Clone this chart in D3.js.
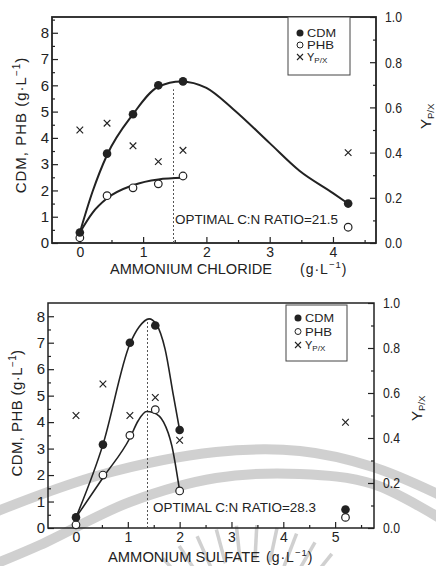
<!DOCTYPE html>
<html>
<head>
<meta charset="utf-8">
<script src="https://cdn.jsdelivr.net/npm/d3@7"></script>
<style>
  body { margin: 0; background: #fff; }
  svg { display: block; font-family: "Liberation Sans", Arial, sans-serif; }
  .axis path.domain { display: none; }
  .axis line { stroke: #222; stroke-width: 1.2; }
  .axis text { fill: #222; font-size: 14px; font-family: "Liberation Sans", Arial, sans-serif; }
</style>
</head>
<body>
<svg id="chart" width="436" height="566"></svg>
<script>
// --- ammonium chloride (upper panel) ---
const chlorideX   = [0, 0.43, 0.84, 1.24, 1.63, 4.24];
const chlorideCDM = [0.4, 3.4, 4.9, 6.0, 6.15, 1.5];
const chloridePHB = [0.2, 1.8, 2.1, 2.25, 2.55, 0.6];
const chlorideYpx = [0.50, 0.53, 0.43, 0.36, 0.41, 0.40];
// fitted lines
const chlorideCdmFitX = [0, 0.2, 0.43, 0.84, 1.24, 1.6, 2.0, 2.42, 3.0, 3.47, 4.0, 4.24];
const chlorideCdmFitY = [0.4, 1.95, 3.35, 4.9, 5.95, 6.15, 5.9, 5.1, 3.8, 2.75, 1.9, 1.5];
const chloridePhbFitX = [0, 0.2, 0.43, 0.84, 1.24, 1.63];
const chloridePhbFitY = [0.4, 1.15, 1.7, 2.2, 2.42, 2.48];
const chlorideOptimal = [1.48, 5.85];   // x, top of dotted line
const chlorideNote = "OPTIMAL C:N RATIO=21.5";

// --- ammonium sulfate (lower panel) ---
const sulfateX   = [0, 0.52, 1.04, 1.53, 2.0, 5.2];
const sulfateCDM = [0.4, 3.15, 7.0, 7.65, 3.7, 0.7];
const sulfatePHB = [0.12, 2.0, 3.5, 4.47, 1.4, 0.4];
const sulfateYpx = [0.50, 0.64, 0.50, 0.58, 0.39, 0.47];
const sulfateCdmFitX = [0, 0.52, 1.04, 1.22, 1.41, 1.55, 1.72, 1.88, 2.0];
const sulfateCdmFitY = [0.4, 3.15, 6.95, 7.6, 7.9, 7.7, 6.75, 5.0, 3.7];
const sulfatePhbFitX = [0, 0.52, 1.04, 1.2, 1.36, 1.5, 1.69, 1.85, 2.0];
const sulfatePhbFitY = [0.4, 1.9, 3.4, 4.05, 4.4, 4.35, 4.0, 3.1, 1.4];
const sulfateOptimal = [1.38, 7.88];
const sulfateNote = "OPTIMAL C:N RATIO=28.3";

// ticks
const leftTicks = [0, 1, 2, 3, 4, 5, 6, 7, 8];
const rightTicks = [0, 0.2, 0.4, 0.6, 0.8, 1.0];
const chlorideTicks = [0, 1, 2, 3, 4];
const sulfateTicks = [0, 1, 2, 3, 4, 5];

const ink = "#222";
const svg = d3.select("#chart");

drawWatermark();

drawPanel({
    left: 52, right: 376, top: 17, bottom: 243,
    xDomain: [-0.44, 4.68], yMax: 8.6,
    xTicks: chlorideTicks, xPad: 4,
    x: chlorideX, cdm: chlorideCDM, phb: chloridePHB, ypx: chlorideYpx,
    cdmFit: d3.zip(chlorideCdmFitX, chlorideCdmFitY),
    phbFit: d3.zip(chloridePhbFitX, chloridePhbFitY),
    optimal: chlorideOptimal, note: chlorideNote, noteX: 175, noteY: 224,
    legend: {x: 288, y: 17, w: 62, h: 58, rows: [33, 45, 57]},
    yTitle: {x: 26, y: 125, spacing: 1},
    rTitle: {x: 431, y: 129},
    xTitle: {x: 110, y: 274, words: "AMMONIUM CHLORIDE", w: 162, unitX: 300},
    lineWidth: 2, frameWidth: 1.8
});

drawPanel({
    left: 48, right: 374, top: 303, bottom: 528,
    xDomain: [-0.54, 5.75], yMax: 8.5,
    xTicks: sulfateTicks, xPad: 4,
    x: sulfateX, cdm: sulfateCDM, phb: sulfatePHB, ypx: sulfateYpx,
    cdmFit: d3.zip(sulfateCdmFitX, sulfateCdmFitY),
    phbFit: d3.zip(sulfatePhbFitX, sulfatePhbFitY),
    optimal: sulfateOptimal, note: sulfateNote, noteX: 153, noteY: 512,
    legend: {x: 286, y: 305, w: 61, h: 56, rows: [318, 331.5, 345]},
    yTitle: {x: 22, y: 413, spacing: 0.4},
    rTitle: {x: 422, y: 421},
    xTitle: {x: 108, y: 562, words: "AMMONIUM SULFATE", w: 152, unitX: 266},
    lineWidth: 1.6, frameWidth: 1.5
});

function drawPanel(p) {
    var g = svg.append("g");

    var x = d3.scaleLinear().domain(p.xDomain).range([p.left, p.right]);
    var y = d3.scaleLinear().domain([0, p.yMax]).range([p.bottom, p.top]);
    var yr = d3.scaleLinear().domain([0, 1]).range([p.bottom, p.top]);

    // left axis
    var la = g.append("g").attr("class", "axis")
        .attr("transform", "translate(" + p.left + ",0)")
        .call(d3.axisLeft(y).tickValues(leftTicks).tickSize(-6).tickPadding(3).tickFormat(d3.format("d")));
    la.selectAll("text").style("font-size", "15px");
    la.selectAll("text").filter(d => d === 0).attr("fill", "#aaa");
    g.append("g").attr("class", "axis")
        .attr("transform", "translate(" + p.left + ",0)")
        .call(d3.axisLeft(y).tickValues(d3.range(0.5, p.yMax, 1)).tickSize(-3).tickFormat(""));

    // right axis
    g.append("g").attr("class", "axis")
        .attr("transform", "translate(" + p.right + ",0)")
        .call(d3.axisRight(yr).tickValues(rightTicks).tickSize(-6).tickPadding(9).tickFormat(d3.format(".1f")))
        .selectAll("text")
        .style("font-size", "15px")
        .attr("textLength", 17).attr("lengthAdjust", "spacingAndGlyphs");
    g.append("g").attr("class", "axis")
        .attr("transform", "translate(" + p.right + ",0)")
        .call(d3.axisRight(yr).tickValues([0.1, 0.3, 0.5, 0.7, 0.9]).tickSize(-3).tickFormat(""));

    // bottom axis
    g.append("g").attr("class", "axis")
        .attr("transform", "translate(0," + p.bottom + ")")
        .call(d3.axisBottom(x).tickValues(p.xTicks).tickSize(-6).tickPadding(p.xPad).tickFormat(d3.format("d")));
    g.append("g").attr("class", "axis")
        .attr("transform", "translate(0," + p.bottom + ")")
        .call(d3.axisBottom(x).tickValues(p.xTicks.map(t => t + 0.5)).tickSize(-3).tickFormat(""));

    // frame
    g.append("rect")
        .attr("x", p.left).attr("y", p.top)
        .attr("width", p.right - p.left).attr("height", p.bottom - p.top)
        .attr("fill", "none").attr("stroke", ink).attr("stroke-width", p.frameWidth);

    // optimal ratio marker
    g.append("line")
        .attr("x1", x(p.optimal[0])).attr("x2", x(p.optimal[0]))
        .attr("y1", y(0)).attr("y2", y(p.optimal[1]))
        .attr("stroke", "#555").attr("stroke-width", 1)
        .attr("stroke-dasharray", "2,2");
    g.append("text")
        .attr("x", p.noteX).attr("y", p.noteY)
        .attr("font-size", 12).attr("fill", ink)
        .attr("textLength", 163).attr("lengthAdjust", "spacingAndGlyphs")
        .text(p.note);

    // fitted curves
    var line = d3.line()
        .x(d => x(d[0])).y(d => y(d[1]))
        .curve(d3.curveMonotoneX);
    [p.cdmFit, p.phbFit].forEach(function(fit) {
        g.append("path")
            .attr("d", line(fit))
            .attr("fill", "none").attr("stroke", ink)
            .attr("stroke-width", p.lineWidth);
    });

    // points
    var cdmPts = d3.zip(p.x, p.cdm);
    var phbPts = d3.zip(p.x, p.phb);
    var ypxPts = d3.zip(p.x, p.ypx);

    g.selectAll(".phb").data(phbPts).enter().append("circle")
        .attr("class", "phb")
        .attr("cx", d => x(d[0])).attr("cy", d => y(d[1]))
        .attr("r", 3.8)
        .attr("fill", "#fff").attr("stroke", ink).attr("stroke-width", 1.2);

    g.selectAll(".cdm").data(cdmPts).enter().append("circle")
        .attr("class", "cdm")
        .attr("cx", d => x(d[0])).attr("cy", d => y(d[1]))
        .attr("r", 4.3)
        .attr("fill", ink);

    g.selectAll(".ypx").data(ypxPts).enter().append("path")
        .attr("class", "ypx")
        .attr("transform", d => "translate(" + x(d[0]) + "," + yr(d[1]) + ")")
        .attr("d", "M-3.3,-3.3L3.3,3.3M-3.3,3.3L3.3,-3.3")
        .attr("stroke", ink).attr("stroke-width", 1.2).attr("fill", "none");

    drawLegend(g, p.legend);

    // y title left
    var yt = g.append("text")
        .attr("transform", "translate(" + p.yTitle.x + "," + p.yTitle.y + ") rotate(-90)")
        .attr("text-anchor", "middle")
        .attr("font-size", 15).attr("fill", ink)
        .attr("letter-spacing", p.yTitle.spacing);
    yt.append("tspan").text("CDM, PHB (g·L");
    yt.append("tspan").attr("dy", -6).attr("font-size", 10).text("−1");
    yt.append("tspan").attr("dy", 6).text(")");

    // y title right
    var rt = g.append("text")
        .attr("transform", "translate(" + p.rTitle.x + "," + p.rTitle.y + ") rotate(-90)")
        .attr("font-size", 15).attr("fill", ink);
    rt.append("tspan").text("Y");
    rt.append("tspan").attr("dy", 3).attr("font-size", 9.5).text("P/X");

    // x title
    g.append("text")
        .attr("x", p.xTitle.x).attr("y", p.xTitle.y)
        .attr("font-size", 15).attr("fill", ink)
        .attr("textLength", p.xTitle.w).attr("lengthAdjust", "spacingAndGlyphs")
        .text(p.xTitle.words);
    var ut = g.append("text")
        .attr("x", p.xTitle.unitX).attr("y", p.xTitle.y)
        .attr("font-size", 14).attr("fill", ink)
        .attr("letter-spacing", 1);
    ut.append("tspan").text("(g·L");
    ut.append("tspan").attr("dy", -6).attr("font-size", 9.5).text("−1");
    ut.append("tspan").attr("dy", 6).text(")");
}

function drawLegend(g, lg) {
    g.append("rect")
        .attr("x", lg.x).attr("y", lg.y)
        .attr("width", lg.w).attr("height", lg.h)
        .attr("fill", "#fff").attr("stroke", "#444").attr("stroke-width", 1);

    var mx = lg.x + 12, tx = lg.x + 19;
    g.append("circle").attr("cx", mx).attr("cy", lg.rows[0]).attr("r", 3.5).attr("fill", ink);
    g.append("circle").attr("cx", mx).attr("cy", lg.rows[1]).attr("r", 3)
        .attr("fill", "none").attr("stroke", ink).attr("stroke-width", 1);
    g.append("path")
        .attr("transform", "translate(" + mx + "," + lg.rows[2] + ")")
        .attr("d", "M-3,-3L3,3M-3,3L3,-3")
        .attr("stroke", ink).attr("stroke-width", 1.1);

    g.append("text").attr("x", tx).attr("y", lg.rows[0] + 4)
        .attr("font-size", 11).attr("fill", ink)
        .attr("textLength", 29).attr("lengthAdjust", "spacingAndGlyphs")
        .text("CDM");
    g.append("text").attr("x", tx).attr("y", lg.rows[1] + 4)
        .attr("font-size", 11).attr("fill", ink)
        .attr("textLength", 27).attr("lengthAdjust", "spacingAndGlyphs")
        .text("PHB");
    var yt = g.append("text").attr("x", tx).attr("y", lg.rows[2] + 4)
        .attr("font-size", 11).attr("fill", ink);
    yt.append("tspan").text("Y");
    yt.append("tspan").attr("dy", 2).attr("font-size", 8).text("P/X");
}

// faint seal watermark crossing the lower panel
function drawWatermark() {
    var wm = svg.append("g").attr("opacity", 0.55);
    var band = d3.line().curve(d3.curveCatmullRom);
    var bands = [
        [[-10, 514], [100, 475], [216, 452], [300, 451], [373, 467], [446, 498]],
        [[-10, 566], [40, 545], [130, 502], [216, 478], [300, 474], [373, 484], [446, 522]]
    ];
    bands.forEach(function(b) {
        wm.append("path").attr("d", band(b))
            .attr("fill", "none").attr("stroke", "#aaa").attr("stroke-width", 10);
    });
    var cx = 250, cy = 655;
    d3.range(-150, -25, 9).forEach(function(a) {
        var r = a * Math.PI / 180;
        wm.append("line")
            .attr("x1", cx + 95 * Math.cos(r)).attr("y1", cy + 95 * Math.sin(r))
            .attr("x2", cx + 130 * Math.cos(r)).attr("y2", cy + 130 * Math.sin(r))
            .attr("stroke", "#aaa").attr("stroke-width", 3.5);
    });
}
</script>
</body>
</html>
